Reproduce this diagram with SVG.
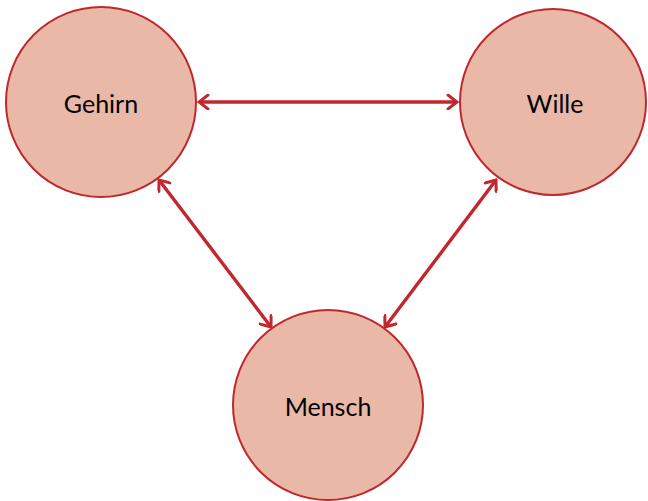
<svg xmlns="http://www.w3.org/2000/svg" width="648" height="501" viewBox="0 0 648 501">
<style>
.node circle{fill:#e9b8a7;stroke:#c1272d;stroke-width:2}
.node text{font-family:Lato,"Liberation Sans",sans-serif;font-size:25px;fill:#000;text-anchor:middle;dominant-baseline:central}
.edge{stroke:#c1272d;stroke-width:3.4;fill:none;marker-start:url(#ah);marker-end:url(#ah)}
</style>
<defs>
<marker id="ah" viewBox="-12 -8 14 16" refX="0" refY="0" markerWidth="14" markerHeight="16" markerUnits="userSpaceOnUse" orient="auto-start-reverse">
<path d="M-9,-7 L0,0 L-9,7" fill="none" stroke="#c1272d" stroke-width="3" stroke-linecap="round" stroke-linejoin="miter"/>
</marker>
</defs>
<g id="connectors">
<line class="edge" x1="199" y1="102" x2="457" y2="102"/>
<line class="edge" x1="159" y1="180" x2="271" y2="327"/>
<line class="edge" x1="496" y1="180" x2="385" y2="327"/>
</g>
<g id="gehirn" class="node"><circle cx="101" cy="102" r="95"/><text x="101" y="103">Gehirn</text></g>
<g id="wille" class="node"><circle cx="553" cy="102" r="93"/><text x="555" y="103">Wille</text></g>
<g id="mensch" class="node"><circle cx="328" cy="405" r="95"/><text x="328" y="406">Mensch</text></g>
</svg>
